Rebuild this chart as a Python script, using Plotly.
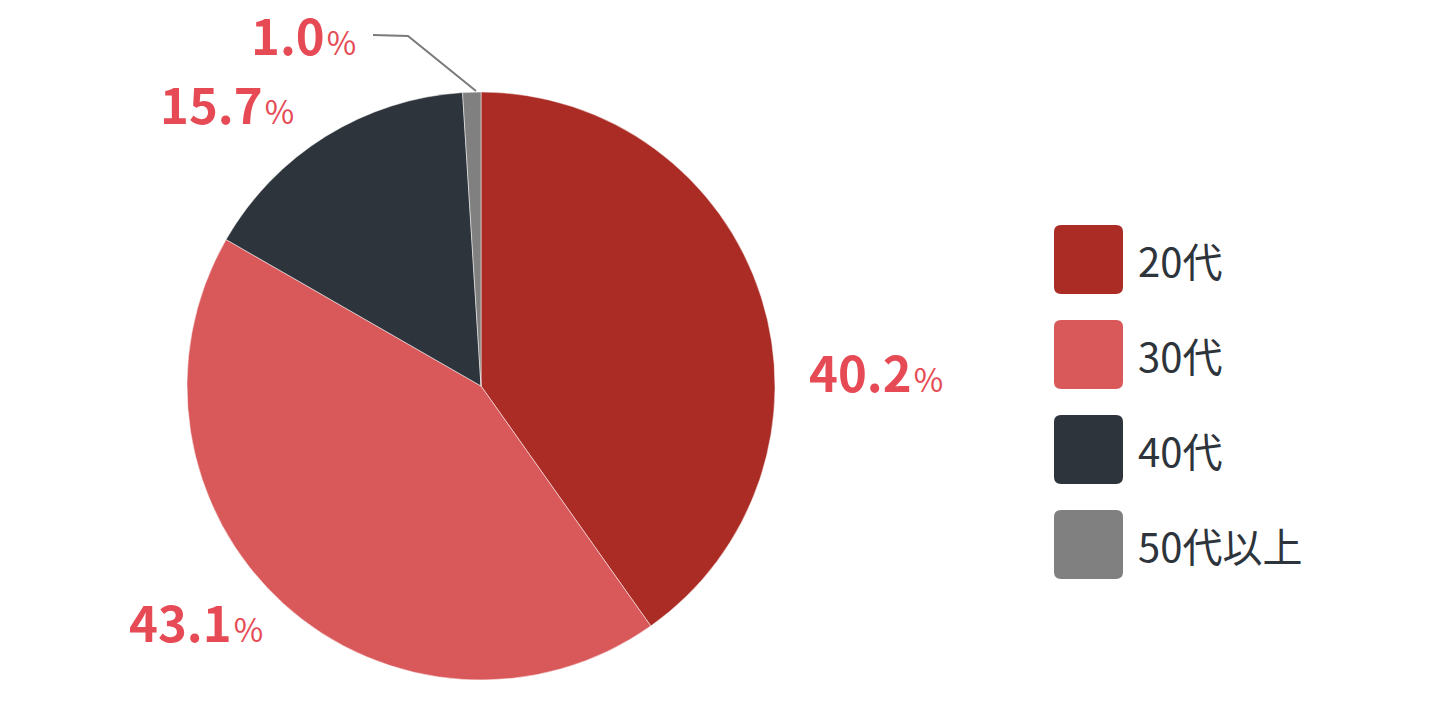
import plotly.graph_objects as go

categories = ["20代", "30代", "40代", "50代以上"]
values = [40.2, 43.1, 15.7, 1.0]
colors = ["#ab2c25", "#d9585a", "#2e343b", "#808080"]

W, H = 1440, 705
OFF = 8  # page body margin
label_font = "Noto Sans CJK JP"
label_color = "#e64b55"


def px(x, y):
    return (x - OFF) / W, 1 - (y - OFF) / H


fig = go.Figure(go.Pie(
    labels=categories, values=values, sort=False, direction="clockwise",
    rotation=0, marker=dict(colors=colors, line=dict(color="white", width=0.5)),
    textinfo="none", hoverinfo="label+percent", showlegend=False,
    domain=dict(x=[px(187, 0)[0], px(775, 0)[0]], y=[px(0, 680)[1], px(0, 92)[1]]),
))

# Label placement (pixel positions of left edge / vertical centre), per category
label_pos = [(807, 370), (127, 620), (158, 103), (249, 33)]

annotations = []
for v, (lx, ly) in zip(values, label_pos):
    x, y = px(lx, ly)
    annotations.append(dict(
        x=x, y=y, xref="paper", yref="paper", xanchor="left", yanchor="middle",
        showarrow=False,
        text=f"<b>{v:.1f}</b><span style='font-size:32px;font-weight:normal'>\u200a%</span>",
        font=dict(family=label_font, size=49, color=label_color),
    ))

shapes = []
# leader line for the smallest slice
shapes.append(dict(
    type="path", xref="paper", yref="paper",
    path="M {} {} L {} {} L {} {}".format(*px(373, 35), *px(408, 36), *px(476, 91)),
    line=dict(color="#7a7a7a", width=2),
))

# custom legend
sw, top0, step, r = 69, 225, 95, 7
for i, (c, col) in enumerate(zip(categories, colors)):
    x0, y0 = 1054 - OFF, top0 + i * step - OFF
    x1, y1 = x0 + sw, y0 + sw
    path = (f"M {x0 + r} {y0} L {x1 - r} {y0} Q {x1} {y0} {x1} {y0 + r} "
            f"L {x1} {y1 - r} Q {x1} {y1} {x1 - r} {y1} L {x0 + r} {y1} "
            f"Q {x0} {y1} {x0} {y1 - r} L {x0} {y0 + r} Q {x0} {y0} {x0 + r} {y0} Z")
    shapes.append(dict(type="path", xref="x", yref="y", path=path,
                       fillcolor=col, line=dict(width=0)))
    annotations.append(dict(
        x=1136 - OFF, y=y0 + sw / 2, xref="x", yref="y", xanchor="left", yanchor="middle",
        showarrow=False, text=c,
        font=dict(family=label_font, size=40, color="#2e343b"),
    ))

fig.update_layout(
    width=W, height=H, margin=dict(l=0, r=0, t=0, b=0),
    paper_bgcolor="white", plot_bgcolor="rgba(0,0,0,0)",
    xaxis=dict(range=[0, W], visible=False, fixedrange=True, domain=[0, 1]),
    yaxis=dict(range=[H, 0], visible=False, fixedrange=True, domain=[0, 1]),
    shapes=shapes, annotations=annotations,
)

fig.write_html("out.html")
